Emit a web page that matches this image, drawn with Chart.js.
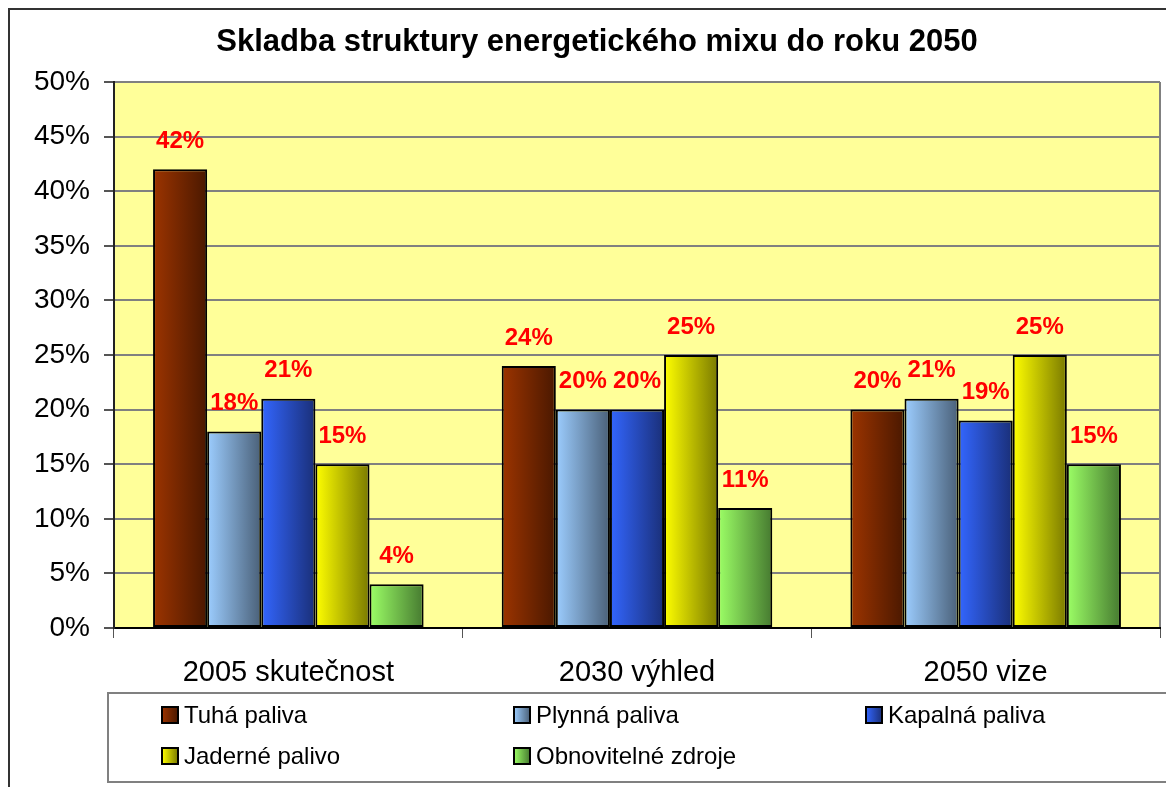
<!DOCTYPE html>
<html>
<head>
<meta charset="utf-8">
<title>Skladba struktury energetického mixu</title>
<script src="https://cdn.jsdelivr.net/npm/chart.js@4"></script>
<style>
  body { margin: 0; background: #fff; }
  canvas { display: block; }
</style>
</head>
<body>
<canvas id="graph" width="1166" height="787"></canvas>
<script>
// data
const roky = ["2005 skutečnost", "2030 výhled", "2050 vize"];
const tuha = [42, 24, 20];
const plynna = [18, 20, 21];
const kapalna = [21, 20, 19];
const jaderne = [15, 25, 25];
const obnovitelne = [4, 11, 15];
const nazvy = ["Tuhá paliva", "Plynná paliva", "Kapalná paliva", "Jaderné palivo", "Obnovitelné zdroje"];
const y_ticks = [0, 5, 10, 15, 20, 25, 30, 35, 40, 45, 50];

// barvy - svetla vlevo, tmava vpravo
const barvy = [
  ["#9c3400", "#4a1800"],
  ["#9ccdff", "#4a6078"],
  ["#3366ff", "#1a2f78"],
  ["#ffff00", "#7a7a00"],
  ["#9cff66", "#467a30"],
];

const FONT = "'Liberation Sans', Arial, sans-serif";
const CAT_PCT = 0.776;

function gradient(c, left, width, idx) {
  const g = c.createLinearGradient(left, 0, left + width, 0);
  g.addColorStop(0, barvy[idx][0]);
  g.addColorStop(1, barvy[idx][1]);
  return g;
}

function barFill(ctx) {
  const chart = ctx.chart;
  const xs = chart.scales.x;
  if (!chart.chartArea || !xs || ctx.type !== "data") return barvy[ctx.datasetIndex][0];
  const catW = xs.width / roky.length;
  const groupW = catW * CAT_PCT;
  const barW = groupW / nazvy.length;
  const left = xs.getPixelForValue(ctx.dataIndex) - groupW / 2 + ctx.datasetIndex * barW;
  return gradient(chart.ctx, left, barW, ctx.datasetIndex);
}

const serie = [tuha, plynna, kapalna, jaderne, obnovitelne];

const kresleni = {
  id: "kresleni",
  beforeDraw(chart) {
    const c = chart.ctx;
    const a = chart.chartArea;
    c.save();
    c.fillStyle = "#fff";
    c.fillRect(0, 0, chart.width, chart.height);
    // ramecek grafu
    c.strokeStyle = "#333";
    c.lineWidth = 2;
    c.strokeRect(9, 9, 1300, 1000);
    // plocha grafu
    c.fillStyle = "#ffff99";
    c.fillRect(a.left, a.top, a.right - a.left, a.bottom - a.top);
    c.strokeStyle = "#808080";
    c.lineWidth = 2;
    c.beginPath();
    c.moveTo(a.right, a.top);
    c.lineTo(a.right, a.bottom);
    c.stroke();
    // titulek
    c.fillStyle = "#000";
    c.font = "bold 31px " + FONT;
    c.textAlign = "center";
    c.textBaseline = "alphabetic";
    c.fillText("Skladba struktury energetického mixu do roku 2050", 597, 51);
    c.restore();
  },
  afterDatasetsDraw(chart) {
    const c = chart.ctx;
    c.save();
    c.fillStyle = "#ff0000";
    c.font = "bold 24px " + FONT;
    c.textAlign = "center";
    c.textBaseline = "middle";
    chart.data.datasets.forEach((ds, i) => {
      chart.getDatasetMeta(i).data.forEach((bar, j) => {
        c.fillText(ds.data[j] + "%", bar.x, bar.y - 28);
      });
    });
    c.restore();
  },
  afterDraw(chart) {
    const c = chart.ctx;
    c.save();
    // legenda
    c.fillStyle = "#fff";
    c.fillRect(108, 693, 1100, 89);
    c.strokeStyle = "#808080";
    c.lineWidth = 2;
    c.strokeRect(108, 693, 1100, 89);
    c.font = "24px " + FONT;
    c.textBaseline = "middle";
    c.textAlign = "left";
    nazvy.forEach((n, i) => {
      const col = i % 3;
      const row = Math.floor(i / 3);
      const x = 162 + col * 352;
      const y = 715 + row * 41;
      c.fillStyle = gradient(c, x, 16, i);
      c.fillRect(x, y - 8, 16, 16);
      c.strokeStyle = "#000";
      c.lineWidth = 2;
      c.strokeRect(x, y - 8, 16, 16);
      c.fillStyle = "#000";
      c.fillText(n, x + 22, y + 1);
    });
    c.restore();
  },
};

let config = {
  type: "bar",
  data: {
    labels: roky,
    datasets: serie.map((d, i) => ({
      label: nazvy[i],
      data: d,
      backgroundColor: barFill,
      borderColor: "#000",
      borderWidth: 2,
      borderSkipped: false,
      barPercentage: 1,
      categoryPercentage: CAT_PCT,
    })),
  },
  options: {
    responsive: false,
    animation: false,
    layout: { padding: { top: 82, left: 0, right: 6, bottom: 0 } },
    plugins: {
      legend: { display: false },
      title: { display: false },
      tooltip: { enabled: false },
    },
    scales: {
      x: {
        grid: {
          drawOnChartArea: false,
          tickLength: 10,
          tickColor: "#555",
          offset: true,
        },
        border: { color: "#000", width: 2 },
        ticks: {
          color: "#000",
          font: { family: FONT, size: 29 },
          padding: 18,
        },
        afterFit(scale) { scale.height = 159; },
      },
      y: {
        min: 0,
        max: 50,
        afterBuildTicks(scale) { scale.ticks = y_ticks.map((v) => ({ value: v })); },
        grid: {
          color: "#808080",
          lineWidth: 2,
          tickLength: 10,
          tickColor: "#555",
        },
        border: { color: "#222", width: 2 },
        ticks: {
          color: "#000",
          font: { family: FONT, size: 28 },
          padding: 14,
          callback: (v) => v + "%",
        },
        afterFit(scale) { scale.width = 114; },
      },
    },
  },
  plugins: [kresleni],
};

window.onload = () => {
  new Chart(document.getElementById("graph"), config);
};
</script>
</body>
</html>
